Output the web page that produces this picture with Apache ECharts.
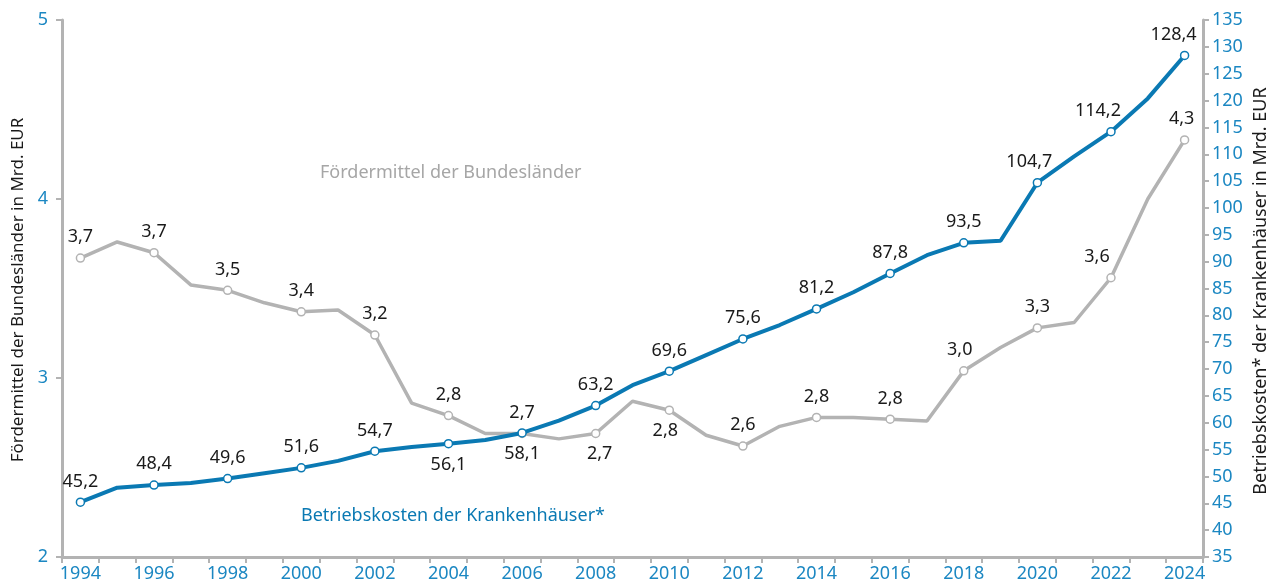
<!DOCTYPE html>
<html lang="de">
<head>
<meta charset="utf-8">
<title>Fördermittel der Bundesländer und Betriebskosten der Krankenhäuser</title>
<script src="https://cdn.jsdelivr.net/npm/echarts@6/dist/echarts.min.js"></script>
<style>
  html, body { margin: 0; padding: 0; background: #ffffff; }
  #chart { width: 1270px; height: 585px; }
</style>
</head>
<body>
<div id="chart"></div>
<script>
// Years on the category axis
const years = ['1994','1995','1996','1997','1998','1999','2000','2001','2002','2003',
  '2004','2005','2006','2007','2008','2009','2010','2011','2012','2013','2014',
  '2015','2016','2017','2018','2019','2020','2021','2022','2023','2024'];

// Fördermittel der Bundesländer, Mrd. EUR (left axis)
const foerdermittel = [3.67, 3.76, 3.70, 3.52, 3.49, 3.42, 3.37, 3.38, 3.24, 2.86,
  2.79, 2.69, 2.69, 2.66, 2.69, 2.87, 2.82, 2.68, 2.62, 2.73, 2.78,
  2.78, 2.77, 2.76, 3.04, 3.17, 3.28, 3.31, 3.56, 4.00, 4.33];

// Betriebskosten der Krankenhäuser, Mrd. EUR (right axis)
const betriebskosten = [45.2, 47.9, 48.4, 48.8, 49.6, 50.6, 51.6, 52.9, 54.7, 55.5,
  56.1, 56.8, 58.1, 60.4, 63.2, 67.0, 69.6, 72.6, 75.6, 78.2, 81.2,
  84.3, 87.8, 91.2, 93.5, 93.9, 104.7, 109.6, 114.2, 120.4, 128.4];

// Tick settings for the two value axes
const leftTicks = { min: 2, max: 5, step: 1 };
const rightTicks = { min: 35, max: 135, step: 5 };

// Axis titles
const leftTitle = 'Fördermittel der Bundesländer in Mrd. EUR';
const rightTitle = 'Betriebskosten* der Krankenhäuser in Mrd. EUR';

const BLUE = '#0a79b3';
const TICK_BLUE = '#1b87c2';
const GREY = '#b3b3b3';
const FONT = '"Noto Sans", "Open Sans", sans-serif';

// Label placement tweaks: labels under the point, and horizontal nudges near the right edge
const greyBelow = ['2008', '2010'];
const blueBelow = ['2004', '2006'];
const greyNudge = { '2008': 4, '2010': -4, '2018': -4, '2022': -14, '2024': -3 };
const blueNudge = { '2020': -8, '2022': -13, '2024': -11 };

const fmt = v => v.toFixed(1).replace('.', ',');

function buildData(values, below, nudge) {
  return values.map((v, i) => {
    const marked = i % 2 === 0;
    const year = years[i];
    return {
      value: v,
      symbol: marked ? 'circle' : 'none',
      label: {
        show: marked,
        position: below.includes(year) ? 'bottom' : 'top',
        offset: [nudge[year] || 0, 0]
      }
    };
  });
}

const chart = echarts.init(document.getElementById('chart'), null, { renderer: 'canvas' });

const seriesLabel = {
  color: '#1a1a1a',
  fontFamily: FONT,
  fontSize: 18,
  distance: 7,
  formatter: p => fmt(p.value)
};

chart.setOption({
  animation: false,
  backgroundColor: '#ffffff',
  grid: { left: 62, right: 67, top: 20, bottom: 28, containLabel: false },
  xAxis: {
    type: 'category',
    data: years,
    boundaryGap: true,
    axisLine: { lineStyle: { color: GREY, width: 3 } },
    axisTick: { show: true, interval: 0, length: 6, lineStyle: { color: GREY, width: 2 } },
    axisLabel: { interval: 1, color: TICK_BLUE, fontFamily: FONT, fontSize: 18, margin: 8 },
    splitLine: { show: false }
  },
  yAxis: [
    {
      type: 'value',
      position: 'left',
      min: leftTicks.min,
      max: leftTicks.max,
      interval: leftTicks.step,
      axisLine: { show: true, lineStyle: { color: GREY, width: 3 } },
      axisTick: { show: true, length: 6, lineStyle: { color: GREY, width: 2 } },
      axisLabel: { color: TICK_BLUE, fontFamily: FONT, fontSize: 18, margin: 14 },
      splitLine: { show: false }
    },
    {
      type: 'value',
      position: 'right',
      min: rightTicks.min,
      max: rightTicks.max,
      interval: rightTicks.step,
      axisLine: { show: true, lineStyle: { color: GREY, width: 3 } },
      axisTick: { show: true, length: 6, lineStyle: { color: GREY, width: 2 } },
      axisLabel: { color: TICK_BLUE, fontFamily: FONT, fontSize: 18, margin: 9 },
      splitLine: { show: false }
    }
  ],
  graphic: [
    // vertical axis titles, reading bottom to top
    {
      type: 'text',
      x: 18,
      y: 290,
      rotation: Math.PI / 2,
      style: { text: leftTitle, fill: '#1a1a1a', font: '17px ' + FONT, align: 'center', verticalAlign: 'middle' }
    },
    {
      type: 'text',
      x: 1261,
      y: 291,
      rotation: Math.PI / 2,
      style: { text: rightTitle, fill: '#1a1a1a', font: '18px ' + FONT, align: 'center', verticalAlign: 'middle' }
    },
    // series captions inside the plot
    {
      type: 'text',
      left: 320,
      top: 164,
      style: { text: 'Fördermittel der Bundesländer', fill: '#a6a6a6', font: '18px ' + FONT }
    },
    {
      type: 'text',
      left: 301,
      top: 507,
      style: { text: 'Betriebskosten der Krankenhäuser*', fill: BLUE, font: '18px ' + FONT }
    }
  ],
  series: [
    {
      name: 'Fördermittel der Bundesländer',
      type: 'line',
      yAxisIndex: 0,
      data: buildData(foerdermittel, greyBelow, greyNudge),
      lineStyle: { color: GREY, width: 3.5 },
      itemStyle: { color: '#ffffff', borderColor: GREY, borderWidth: 1.5 },
      symbolSize: 8,
      label: seriesLabel,
      z: 2
    },
    {
      name: 'Betriebskosten der Krankenhäuser',
      type: 'line',
      yAxisIndex: 1,
      data: buildData(betriebskosten, blueBelow, blueNudge),
      lineStyle: { color: BLUE, width: 4 },
      itemStyle: { color: '#ffffff', borderColor: BLUE, borderWidth: 1.5 },
      symbolSize: 8,
      label: seriesLabel,
      z: 3
    }
  ]
});
</script>
</body>
</html>
